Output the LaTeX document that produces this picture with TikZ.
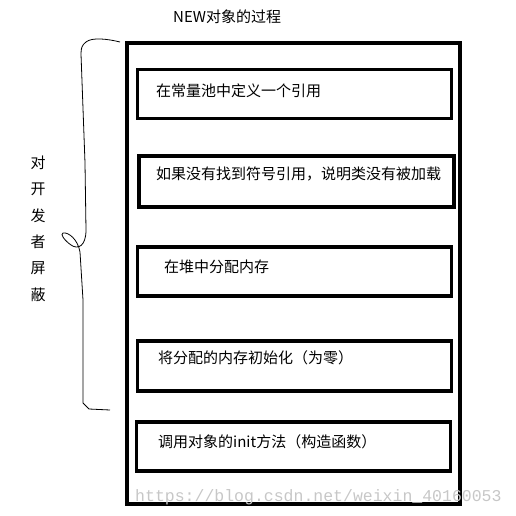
\documentclass[tikz,border=0pt]{standalone}
\usepackage{fontspec}
\setmainfont{Noto Sans CJK SC}
\newfontfamily\markfont{Liberation Mono}
\usepackage{tikz}
\usetikzlibrary{positioning}
\tikzstyle{frame} = [draw, line width=3.5pt, rectangle, inner sep=0pt]
\tikzstyle{stepbox} = [draw, line width=3.5pt, rectangle, inner sep=0pt, minimum width=314pt, minimum height=49pt]
\tikzstyle{steptext} = [anchor=west, inner sep=0pt, font=\fontsize{15}{17}\selectfont]
\tikzstyle{sidetext} = [inner sep=0pt, font=\fontsize{15}{17}\selectfont]

\begin{document}
\begin{tikzpicture}[x=1pt, y=-1pt]
		\useasboundingbox (0,0) rectangle (516,516);
		\node [sidetext, anchor=west] (title) at (173,17) {NEW对象的过程};
		\node [frame, minimum width=333pt, minimum height=461pt] (outer) at (293.5,273.5) {};
		
		\node [stepbox] (alloc ref) at (294.5,94) {};
		\node [stepbox, minimum width=315pt, minimum height=51pt] (load) at (296.5,181.5) {};
		\node [stepbox] (heap) at (294.5,271.5) {};
		\node [stepbox, minimum height=50pt] (zero) at (294.5,366) {};
		\node [stepbox] (init) at (293.5,446.5) {};
		
		\node [steptext] (t ref) at (156,91) {在常量池中定义一个引用};
		\node [steptext] (t load) at (156,174) {如果没有找到符号引用，说明类没有被加载};
		\node [steptext] (t heap) at (164,267) {在堆中分配内存};
		\node [steptext] (t zero) at (158,358) {将分配的内存初始化（为零）};
		\node [steptext] (t init) at (158,442) {调用对象的init方法（构造函数）};
		
		% vertical label
		\foreach \ch [count=\i from 0] in {对,开,发,者,屏,蔽}
			\node [sidetext] (side\i) at (38,163+26.4*\i) {\ch};
		
		% hand drawn brace
		\draw [line width=0.8pt, line join=round]
			(120,42) .. controls (108,39) and (92,37) .. (86,42)
			.. controls (82,45) and (81,48) .. (81,54)
			-- (85,163) -- (86,230)
			.. controls (86,246) and (78,250) .. (71,245)
			.. controls (64,240) and (60,234) .. (63,233)
			.. controls (69,232) and (78,240) .. (80,252)
			-- (83,300) -- (83,403) -- (89,409) -- (110,410);
		
		\node [anchor=west, inner sep=0pt, text=black!22, font=\markfont\fontsize{16.5}{18}\selectfont] (mark) at (135,497) {https://blog.csdn.net/weixin\_40160053};
\end{tikzpicture}
\end{document}
